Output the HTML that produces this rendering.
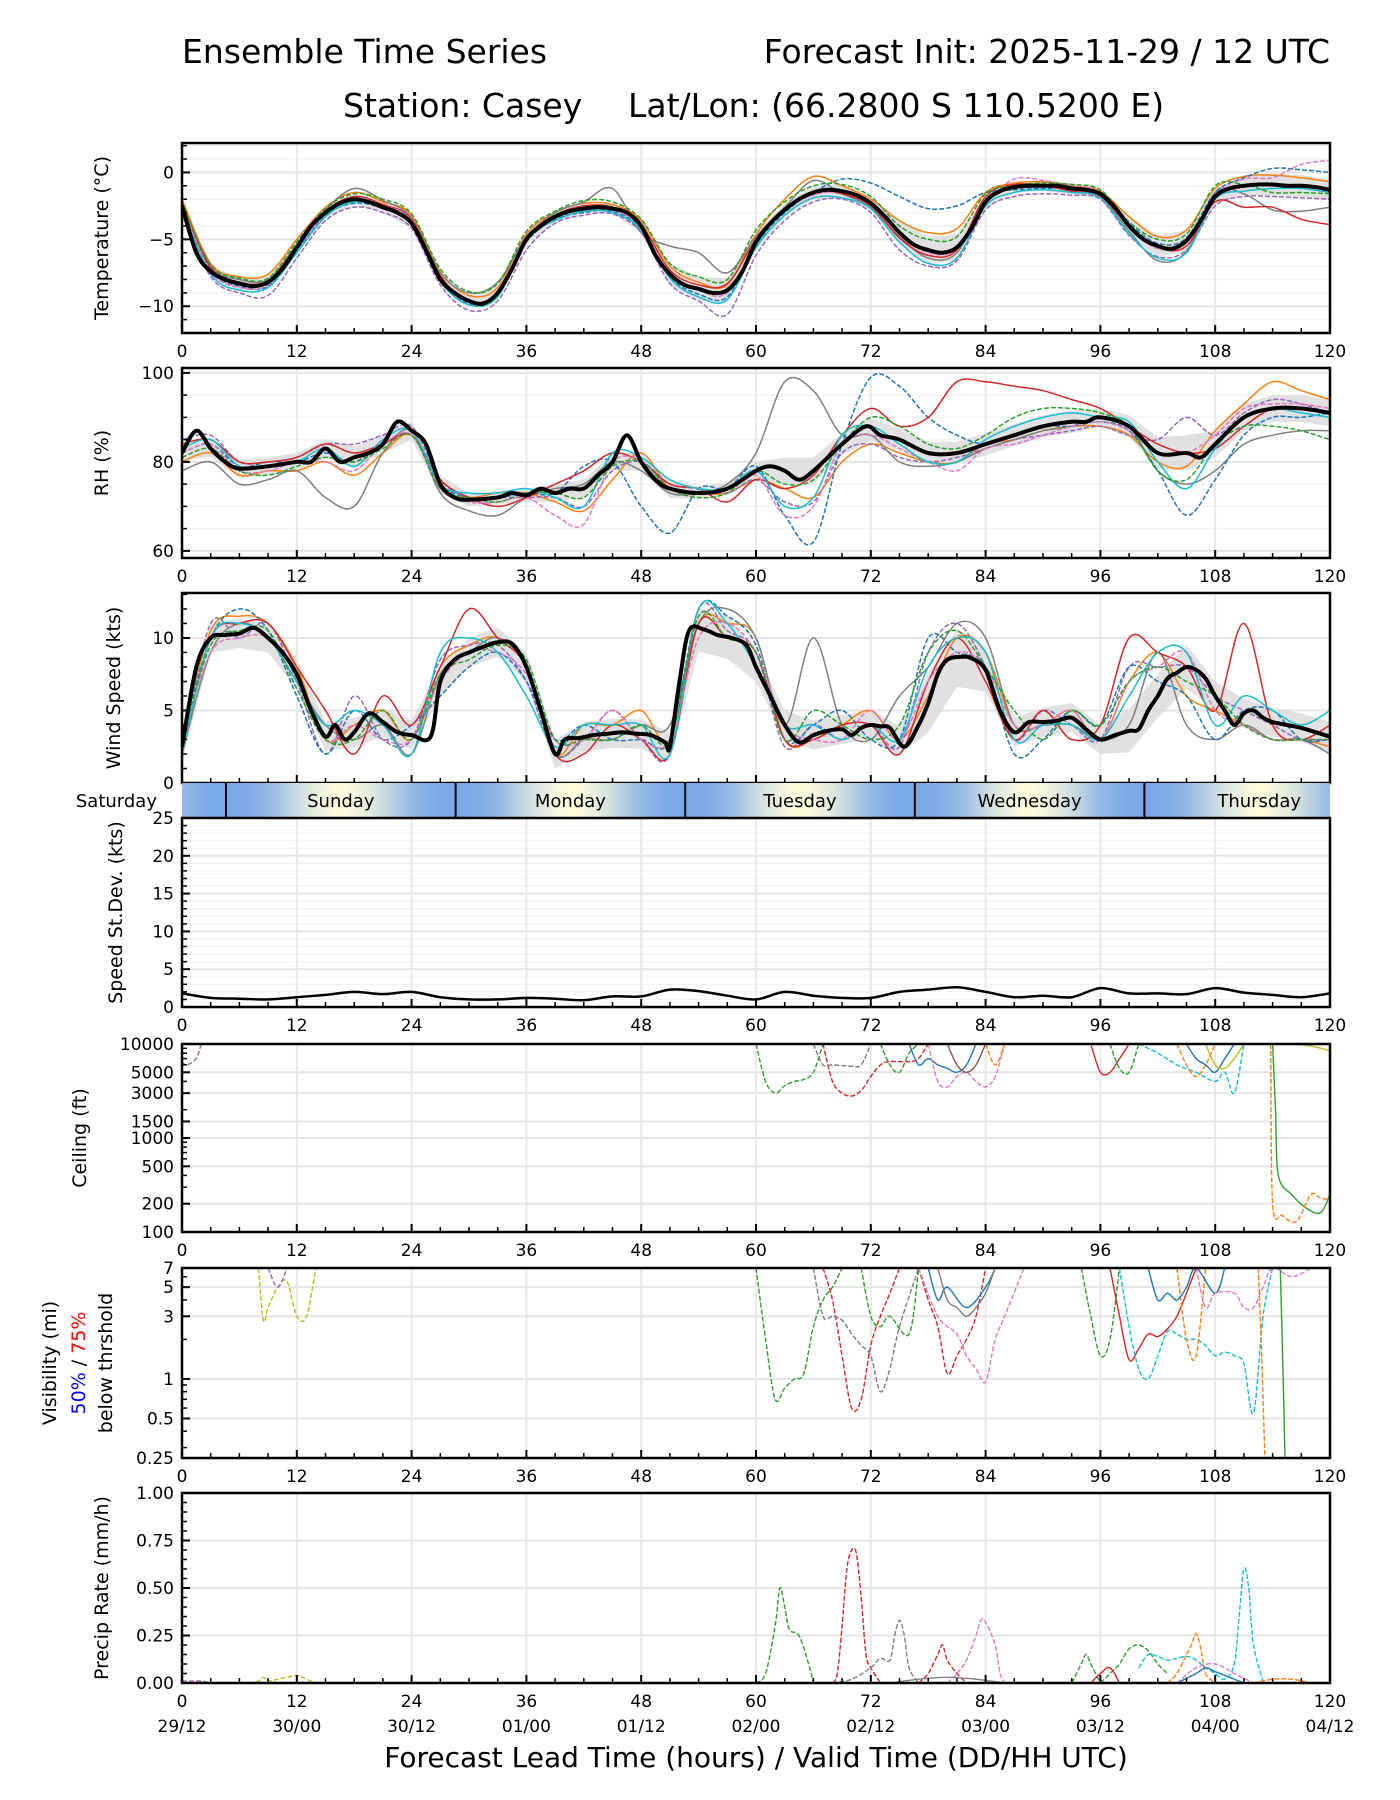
<!DOCTYPE html>
<html><head><meta charset="utf-8"><title>Ensemble Time Series - Casey</title>
<style>
html,body{margin:0;padding:0;background:#fff;}
svg{display:block;font-family:"DejaVu Sans","Liberation Sans",sans-serif;}
</style></head>
<body>
<svg id="chart" width="1400" height="1800" viewBox="0 0 1400 1800" xmlns="http://www.w3.org/2000/svg">
<text x="182" y="63" font-size="33">Ensemble Time Series</text>
<text x="1330" y="63" font-size="33" text-anchor="end">Forecast Init: 2025-11-29 / 12 UTC</text>
<text x="343" y="117" font-size="33">Station: Casey</text>
<text x="628" y="117" font-size="33">Lat/Lon: (66.2800 S 110.5200 E)</text>
<text x="756" y="1767" font-size="28" text-anchor="middle">Forecast Lead Time (hours) / Valid Time (DD/HH UTC)</text>
<g id="layer"></g>
</svg>
<script>
// ---------- data ----------
const hours3 = [0,3,6,9,12,15,18,21,24,27,30,33,36,39,42,45,48,51,54,57,60,63,66,69,72,75,78,81,84,87,90,93,96,99,102,105,108,111,114,117,120];
const tempMeanH = [0,1.5,3,4.5,6,7.5,9,10.5,12,13.5,15,16.5,18,19.5,21,22.5,24,25.5,27,28.5,30,31.5,33,34.5,36,37.5,39,40.5,42,43.5,45,46.5,48,49.5,51,52.5,54,55.5,57,58.5,60,61.5,63,64.5,66,67.5,69,70.5,72,73.5,75,76.5,78,79.5,81,82.5,84,85.5,87,88.5,90,91.5,93,94.5,96,97.5,99,100.5,102,103.5,105,106.5,108,109.5,111,112.5,114,115.5,117,118.5,120];
const tempMean = [-2.5,-6.0,-7.4,-8.0,-8.3,-8.5,-8.2,-7.2,-5.6,-4.0,-3.0,-2.3,-2.0,-2.2,-2.6,-3.0,-3.8,-5.8,-8.0,-9.0,-9.6,-9.8,-9.0,-7.2,-5.0,-4.0,-3.3,-2.9,-2.7,-2.6,-2.7,-3.0,-4.0,-6.2,-7.6,-8.4,-8.7,-9.0,-8.8,-7.5,-5.2,-3.8,-2.8,-2.0,-1.5,-1.3,-1.4,-1.7,-2.3,-3.3,-4.5,-5.4,-5.8,-6.0,-5.6,-4.2,-2.2,-1.4,-1.1,-1.0,-1.0,-1.0,-1.2,-1.3,-1.6,-2.6,-4.0,-5.0,-5.5,-5.7,-5.1,-3.6,-1.8,-1.2,-1.0,-0.9,-0.9,-1.0,-1.0,-1.1,-1.3];
const tempMembers = [
 [-2.0,-6.8,-7.8,-7.6,-5.0,-2.6,-1.5,-2.2,-3.2,-7.4,-9.2,-8.6,-4.6,-3.0,-2.3,-2.4,-3.6,-7.0,-8.2,-8.4,-4.6,-2.0,-0.3,-1.0,-2.0,-3.6,-4.5,-4.2,-1.5,-0.8,-0.7,-1.0,-1.4,-3.3,-4.8,-4.3,-1.2,-0.3,-0.2,-0.4,-0.7],
 [-3.0,-7.8,-9.0,-9.2,-6.4,-3.6,-2.6,-3.0,-4.2,-8.4,-10.3,-9.6,-5.8,-3.8,-3.2,-3.1,-4.5,-8.3,-9.6,-10.6,-6.2,-3.6,-2.2,-2.0,-3.0,-5.8,-7.0,-6.6,-2.8,-1.8,-1.6,-1.7,-2.0,-4.7,-6.3,-5.8,-2.5,-1.8,-1.8,-1.9,-2.0],
 [-2.2,-7.0,-8.0,-8.0,-5.4,-2.8,-1.2,-2.1,-3.4,-7.5,-9.0,-8.2,-4.8,-3.0,-2.2,-1.2,-4.5,-5.5,-6.0,-7.5,-4.8,-2.6,-0.6,-1.6,-2.6,-4.8,-6.4,-6.0,-2.0,-1.0,-0.9,-1.3,-1.8,-4.4,-6.6,-5.9,-1.5,-1.6,-2.8,-2.9,-2.6],
 [-2.6,-7.3,-8.5,-8.5,-5.8,-3.2,-2.3,-2.7,-3.8,-8.0,-9.8,-9.2,-5.2,-3.5,-3.0,-2.9,-4.2,-7.8,-9.1,-9.3,-5.4,-3.0,-1.5,-0.5,-0.8,-1.8,-2.7,-2.5,-1.5,-1.3,-1.2,-1.2,-1.5,-3.8,-5.3,-4.9,-1.5,-0.4,0.3,0.2,0.0],
 [-2.4,-7.1,-8.2,-8.1,-5.5,-2.9,-1.8,-2.4,-3.5,-7.7,-9.6,-9.0,-4.9,-3.2,-2.5,-2.6,-3.9,-7.3,-8.4,-8.3,-5.0,-2.7,-1.5,-1.6,-2.5,-4.9,-6.2,-5.8,-1.8,-0.9,-1.0,-1.4,-1.8,-4.0,-5.6,-5.5,-2.2,-2.6,-2.6,-3.5,-3.9],
 [-2.5,-7.4,-8.6,-8.4,-5.7,-3.1,-2.1,-2.5,-3.6,-7.9,-9.7,-9.1,-5.1,-3.4,-2.8,-2.8,-4.1,-7.6,-8.8,-9.0,-5.3,-2.9,-1.7,-1.5,-2.4,-4.6,-6.0,-5.7,-2.3,-0.5,-0.6,-1.0,-1.5,-4.1,-5.7,-5.2,-1.7,-0.5,-0.4,0.6,0.9],
 [-2.8,-7.6,-8.8,-8.6,-6.0,-3.3,-2.2,-2.6,-3.7,-8.1,-9.9,-9.3,-5.0,-3.6,-2.9,-3.0,-4.3,-7.9,-9.3,-9.5,-5.6,-3.2,-1.9,-1.9,-2.7,-5.2,-6.8,-6.4,-2.5,-1.5,-1.3,-1.5,-1.9,-4.6,-6.4,-6.0,-2.0,-1.4,-1.2,-1.2,-1.5],
 [-2.3,-6.9,-7.9,-7.9,-5.2,-2.7,-1.6,-2.0,-3.1,-7.2,-8.9,-8.3,-4.4,-2.9,-2.1,-2.2,-3.5,-6.8,-7.8,-8.0,-4.3,-2.2,-1.0,-0.9,-1.8,-4.0,-5.0,-4.8,-1.6,-1.0,-0.8,-0.9,-1.3,-3.7,-5.0,-4.6,-1.0,-0.9,-1.5,-1.5,-1.6]
];
const tempSpread = [0.3,0.4,0.5,0.5,0.5,0.4,0.4,0.4,0.4,0.5,0.4,0.5,0.4,0.4,0.4,0.4,0.5,0.8,0.9,0.9,0.7,0.5,0.5,0.5,0.5,0.9,1.0,1.0,0.5,0.4,0.4,0.4,0.4,0.7,0.8,0.8,0.6,0.7,0.8,0.8,0.8];

const rhMeanH = [0,1.5,3,4.5,6,9,12,13.5,15,16.5,18,19.5,21,22.5,24,25.5,27,28.5,30,33,34.5,36,37.5,39,40.5,42,43.5,45,46.5,48,49.5,51,54,57,60,61.5,63,64.5,66,69,71.5,73,75,78,81,84,87,90,93,94.5,96,99,102,105,106.5,108,111,114,117,120];
const rhMean = [82,87,83,80,78.5,79,80,80,83,80,81,82,84,89,87,84,75,72,71.5,72,73,72.5,74,73,74,74,77,80,86,80,76,74,73,74,78,79,78,76,78,84,88,86,85,82,82,84,86,88,89,89,90,88,82,82,81,84,90,92,92,91];
const rhMembers = [
 [80,82,77,78,78,80,77,82,86,74,72,73,73,71,69,76,82,74,73,73,76,74,72,80,84,82,80,80,84,85,87,88,88,86,80,79,87,93,98,96,94],
 [85,86,80,80,81,84,84,86,88,76,72,72,72,72,70,78,80,75,74,73,76,71,71,82,84,81,80,81,83,85,86,87,88,86,85,90,86,91,94,93,91],
 [78,80,75,76,78,72,70,82,87,73,69,68,72,74,75,80,78,73,73,75,82,98,96,86,86,80,79,80,83,85,87,88,90,88,78,75,78,84,86,87,87],
 [82,84,79,80,80,82,80,84,86,75,72,72,73,73,79,80,70,64,74,74,79,68,62,84,99,97,90,86,84,86,88,88,89,87,78,68,76,86,90,90,91],
 [84,85,80,80,81,84,82,84,86,76,72,70,72,75,78,82,80,75,74,71,76,74,77,86,92,88,90,98,98,97,96,94,92,88,84,82,83,88,92,92,91],
 [82,84,78,78,80,80,78,84,86,74,71,71,72,68,66,80,80,74,73,74,77,68,70,84,86,83,80,78,83,84,86,88,89,87,82,82,86,92,93,93,92],
 [83,85,79,79,80,83,79,85,87,75,73,73,74,72,70,82,81,76,74,74,78,70,72,86,88,84,80,80,85,88,90,91,90,89,80,74,83,90,92,91,90],
 [81,83,78,77,79,81,80,83,86,74,72,71,73,73,72,79,80,74,72,73,78,75,76,84,90,88,84,83,86,90,92,92,91,88,78,76,84,88,88,87,85]
];
const rhSpread = [1.5,2,2,2,2,2,2.5,2,2,2,1.5,1.5,1.5,2,2,2,2,2,1.5,1.5,2,3,3,2.5,2.5,2.5,2.5,2.5,2.5,2.5,2.5,2.5,2,2.5,3.5,4,3,3,3,3,3];

const windMeanH = [0,1.5,3,4.5,6,7.5,9,10.5,12,13.5,15,16,17,18,19.5,21,22.5,24,26,27,28.5,30,31.5,33,34.5,36,37.5,39,40,41.5,43,44.5,46,47.5,49,50.5,51,52,53,54.5,56,57.5,59,60,61.5,63,64.5,66,67.5,69,70,71,72,73,74,75.5,77,78,79,80,81.5,82.5,84,85.5,87,88.5,90,91.5,93,94.5,96,97.5,99,100,101,102,103,104,105,106,107,108,109,110,111,112,113,114,115.5,117,118.5,120];
const windMean = [2.5,8.0,10.0,10.2,10.3,10.7,10.0,9.0,7.5,5.0,3.2,4.0,3.0,3.5,4.8,4.2,3.5,3.3,3.2,7.0,8.5,9.0,9.4,9.7,9.6,8.0,5.0,2.0,3.0,3.1,3.3,3.4,3.5,3.4,3.3,2.8,2.5,7.0,10.5,10.6,10.2,10.0,9.5,8.0,6.0,4.0,2.8,3.3,3.6,3.7,3.3,3.8,4.0,3.9,3.8,2.5,4.0,5.5,7.5,8.5,8.7,8.6,7.8,5.0,3.5,4.2,4.2,4.3,4.5,3.7,3.0,3.3,3.6,3.7,5.0,6.0,7.2,7.6,8.0,7.8,7.2,6.0,5.0,4.0,4.8,5.0,4.5,4.2,4.0,3.8,3.5,3.2,3.0];
const windMembers = [
 [3,10.5,11.5,11,8,3,4,5,3,8,9.5,10,8,2,4,4,5,3,11,11,10,3,3,4,5,3,6,10,9,4,4,5,3,7,9,6,5,4,3,3,2.5],
 [2.5,11,10,11,7,2,6,3,3,8.5,9.5,9.5,7,2,3,5,3,2,12,10.5,9,2.5,4,3,4,2.5,9,11,8,3,5,4,3,8,8,8,6,5,4,3,3],
 [2,9,11,10,7,4,3,4,2,7.5,9,10,8,2,3,3,4,4,11,12,10,4,10,4,3,6,8,11,10,4,4,4,3,4,9,4,3,4,3,3,2],
 [3,10,12,10.5,6,2,5,3,4,6,8,9,7,3,4,3,3,3,12,11.5,9.5,3,4,5,3,3,10,9,8,2,3,5,4,8,7,6,3,5,5,3,3],
 [2,10,11,11,8,5,2,6,4,8,12,10,8,2,2,4,3,2,11,10,9,3,3,4,4,2,7,10,7,3,5,3,4,10,9,8,5,11,4,3,4],
 [3,9,10,10,7.5,3,4,3,3,7,9,9,7.5,3,3,5,3,3,10,11,9,4,3,3,5,3,7,9,8,4,4,5,3,7,8,9,5,4,3,3,3],
 [2,10,11,10,7,4,5,4,2,9,10,9,6,2.5,4,4,4,2,12,11,8,4,4,3,4,3,8,10,9,3,4,4,3,6,9,9,4,6,5,4,5],
 [3,9.5,10.5,10.5,6.5,3,3,5,3,7.5,8.5,9.5,8.5,3,3,3,4,3,11.5,10,9,3,5,4,3,4,9,10.5,8,5,3,5,4,7,8,7,6,4,3,3,3]
];
const windSpread = [1,1,1,1,1,1,1,1,1,1,1,1,1,1,1,1,1,1,1.5,1.5,1,1,1,1,1,1,2,2,1.5,1,1,1,1,1.5,1.5,1.5,1,1,1,1,1];

const sdevH = hours3;
const sdevVals = [1.8,1.2,1.1,1.0,1.3,1.6,2.0,1.7,2.0,1.3,1.0,1.0,1.2,1.1,0.9,1.4,1.4,2.3,2.1,1.5,1.0,2.0,1.5,1.2,1.2,2.0,2.3,2.6,2.0,1.3,1.5,1.3,2.5,1.8,1.8,1.7,2.5,1.9,1.6,1.3,1.8];

const ceilSeries = [
 {c:'#2ca02c',d:1,h:[60,61,62,63,64,65,66,67],v:[10000,4000,3000,3600,4000,4200,5000,10000]},
 {c:'#d62728',d:1,h:[67,68,69,70,71,72,73,74,76,77,78],v:[10000,4000,3000,2800,3200,4500,6000,6500,6500,7000,10000]},
 {c:'#7f7f7f',d:1,h:[66,67,68,70,71,72],v:[10000,6000,6000,5800,6000,10000]},
 {c:'#2ca02c',d:1,h:[73,74,75,76,77],v:[10000,6000,5000,8000,10000]},
 {c:'#1f77b4',d:0,h:[76,77,78,79,80,81,82,83],v:[10000,6000,7000,6000,5500,5000,6000,10000]},
 {c:'#e377c2',d:1,h:[78,79,80,81,82,83,84,85,86],v:[10000,4000,3500,4500,5000,4000,3500,4500,10000]},
 {c:'#8c564b',d:0,h:[80,81,82,83,84],v:[10000,6000,5000,6000,10000]},
 {c:'#ff7f0e',d:1,h:[84,85,86],v:[10000,6000,10000]},
 {c:'#d62728',d:0,h:[95,96,97,98,99],v:[10000,5000,5000,7000,10000]},
 {c:'#2ca02c',d:1,h:[97,98,99,100],v:[10000,5500,5000,10000]},
 {c:'#17becf',d:1,h:[100,102,104,106,108,109,110,111],v:[10000,8000,6000,5000,4000,5000,3000,10000]},
 {c:'#ff7f0e',d:1,h:[104,105,106,107,108],v:[10000,6000,4500,6000,10000]},
 {c:'#1f77b4',d:0,h:[105,106,107,108,109,110],v:[10000,7000,6000,5000,7000,10000]},
 {c:'#bcbd22',d:0,h:[107,108,109,110,111],v:[10000,6000,5500,7000,10000]},
 {c:'#2ca02c',d:0,h:[114,114.3,114.6,116,117.5,119,120],v:[10000,2000,400,250,180,160,250]},
 {c:'#ff7f0e',d:1,h:[113.8,114,115,116.5,118,119,120],v:[10000,200,150,130,250,230,220]},
 {c:'#bcbd22',d:0,h:[114,116,118,120],v:[10000,10000,9500,8500]},
 {c:'#9467bd',d:1,h:[0,0.5,1.5,2],v:[6500,6000,7000,10000]}
];
const visSeries = [
 {c:'#bcbd22',d:1,h:[8,8.5,9,10,11,12,13,14],v:[7,2.8,3.5,5,5.5,3,3,7]},
 {c:'#9467bd',d:1,h:[9,10,11],v:[7,5,7]},
 {c:'#2ca02c',d:1,h:[60,61,62,63,64,65,66,67,68,69],v:[7,2,0.7,0.85,1,1.1,2.5,4,5,7]},
 {c:'#d62728',d:1,h:[67,68,69,70,71,72,73,74,75],v:[7,4,1.5,0.6,0.7,1.8,3,4.5,7]},
 {c:'#7f7f7f',d:1,h:[66,67,68,69,70,71,72,73,74,75,77],v:[7,3,3,2.8,2.2,1.8,1.5,0.8,1.2,2.5,7]},
 {c:'#2ca02c',d:1,h:[71,72,73,74,76,77],v:[7,3,2.5,3,2.2,7]},
 {c:'#d62728',d:1,h:[77,78,79,80,81,82,83,84],v:[7,4,2.5,1.1,1.5,2,3,7]},
 {c:'#e377c2',d:1,h:[77,79,81,82,83,84,85,86,88],v:[7,3,2.2,1.5,1.2,0.95,2,3,7]},
 {c:'#1f77b4',d:0,h:[78,79,80,82,84,85],v:[7,4,5,3.5,5,7]},
 {c:'#7f7f7f',d:0,h:[79,80,81,82,83,84,85],v:[7,4,3.5,3,3.5,4.5,7]},
 {c:'#2ca02c',d:1,h:[94,95,96,97,98],v:[7,3,1.5,2,7]},
 {c:'#d62728',d:0,h:[97,98,99,100,101,102,103,104,105,106],v:[7,3,1.4,1.7,2.2,2.1,2.4,3,4.5,7]},
 {c:'#17becf',d:1,h:[98,99,100,101,102,103,104,105,106,107,108,109,110,111,112,113,114],v:[7,2.5,1.2,1,1.5,2.3,2.2,2,2,1.8,1.5,1.6,1.5,1.3,0.55,3,7]},
 {c:'#ff7f0e',d:1,h:[104,105,106,107],v:[7,2,1.5,7]},
 {c:'#1f77b4',d:0,h:[101,102,103,104,105,106,108,109],v:[7,4,4.5,4,5,7,4.5,7]},
 {c:'#e377c2',d:1,h:[106,107,108,110,111,112,113,114,116,118],v:[7,3.5,4.5,4.5,3.5,3.5,5,7,6,7]},
 {c:'#ff7f0e',d:1,h:[112.5,112.8,113.2],v:[7,2,0.25]},
 {c:'#2ca02c',d:0,h:[114.8,115,115.3],v:[7,2,0.25]}
];
const precipSeries = [
 {c:'#bcbd22',d:1,h:[7,8,8.5,9,10,11,12,13,14],v:[0,0.01,0.03,0.01,0.02,0.03,0.04,0.02,0]},
 {c:'#9467bd',d:1,h:[0,1,2,3],v:[0.01,0.01,0.01,0]},
 {c:'#2ca02c',d:1,h:[60,61,62,62.5,63,63.5,64.5,65.5,66],v:[0,0.05,0.3,0.5,0.4,0.28,0.25,0.1,0]},
 {c:'#d62728',d:1,h:[68,68.5,69,69.5,70,70.5,71,71.5,72,73],v:[0,0.05,0.3,0.6,0.7,0.68,0.45,0.15,0.08,0]},
 {c:'#7f7f7f',d:1,h:[68,70,72,73,74,74.5,75,75.5,76,77],v:[0,0.02,0.08,0.13,0.12,0.25,0.33,0.25,0.08,0]},
 {c:'#d62728',d:1,h:[77,78,79,79.5,80,81,82],v:[0,0.05,0.15,0.2,0.12,0.05,0]},
 {c:'#e377c2',d:1,h:[80,81,82,83,83.5,84,85,85.5,86],v:[0,0.05,0.12,0.25,0.33,0.32,0.2,0.05,0]},
 {c:'#7f7f7f',d:0,h:[74,77,80,83,86],v:[0,0.02,0.03,0.02,0]},
 {c:'#2ca02c',d:1,h:[93,94,94.5,95,96],v:[0,0.1,0.15,0.1,0]},
 {c:'#2ca02c',d:1,h:[96,97,98,99,100,101,102,103],v:[0,0.05,0.1,0.18,0.2,0.17,0.1,0.05]},
 {c:'#d62728',d:0,h:[95,96,97,98],v:[0,0.05,0.08,0]},
 {c:'#ff7f0e',d:1,h:[103,104,105,105.5,106,106.5,107,108],v:[0,0.05,0.15,0.2,0.26,0.18,0.05,0]},
 {c:'#17becf',d:1,h:[100,101,102,103,104,105,106,107,108,109,110,110.5,111,111.5,112,113],v:[0.08,0.15,0.14,0.12,0.13,0.14,0.12,0.08,0.05,0.02,0.1,0.35,0.6,0.5,0.2,0.01]},
 {c:'#1f77b4',d:0,h:[104,106,107,108,109,111],v:[0,0.05,0.08,0.06,0.04,0]},
 {c:'#e377c2',d:1,h:[104,106,108,110,112],v:[0,0.08,0.1,0.05,0]},
 {c:'#ff7f0e',d:1,h:[112,114,116,118],v:[0,0.02,0.02,0]}
];
const xTicks = [0,12,24,36,48,60,72,84,96,108,120];
const dateLabels = ['29/12','30/00','30/12','01/00','01/12','02/00','02/12','03/00','03/12','04/00','04/12'];
const dayNames = ['Saturday','Sunday','Monday','Tuesday','Wednesday','Thursday'];
const dayStartHour = 4.6;

// ---------- helpers ----------
const NS='http://www.w3.org/2000/svg';
const layer=document.getElementById('layer');
const X0=182,X1=1330;
function xs(h){return X0+(X1-X0)*h/120;}
function mk(tag,attrs,parent){const e=document.createElementNS(NS,tag);for(const k in attrs)e.setAttribute(k,attrs[k]);(parent||layer).appendChild(e);return e;}
const colors=['#1f77b4','#ff7f0e','#2ca02c','#d62728','#9467bd','#8c564b','#e377c2','#7f7f7f','#bcbd22','#17becf'];

function panel(name,y0,y1,yscale,majors,minors,gridMinor,label,labelX,noXLabels){
  const g=mk('g',{});
  
  
  if(gridMinor){minors.forEach(v=>{const y=yscale(v);mk('line',{x1:X0,x2:X1,y1:y,y2:y,stroke:'#f3f3f3','stroke-width':1.5},g);});}
  majors.forEach(m=>{const y=yscale(m[0]);mk('line',{x1:X0,x2:X1,y1:y,y2:y,stroke:'#e4e4e4','stroke-width':2},g);});
  xTicks.forEach(h=>{mk('line',{x1:xs(h),x2:xs(h),y1:y0,y2:y1,stroke:'#e8e8e8','stroke-width':2},g);});
  const clip=mk('clipPath',{id:'clip-'+name},g);
  mk('rect',{x:X0,y:y0,width:X1-X0,height:y1-y0},clip);
  const data=mk('g',{'clip-path':'url(#clip-'+name+')'},g);
  
  
  for(let h=0;h<=120;h+=3){const big=h%12===0;mk('line',{x1:xs(h),x2:xs(h),y1:y1,y2:y1-(big?8:5),stroke:'#000','stroke-width':big?2:1.5},g);}
  minors.forEach(v=>{const y=yscale(v);mk('line',{x1:X0,x2:X0+5,y1:y,y2:y,stroke:'#000','stroke-width':1.5},g);});
  majors.forEach(m=>{const y=yscale(m[0]);mk('line',{x1:X0,x2:X0+8,y1:y,y2:y,stroke:'#000','stroke-width':2},g);
    const t=mk('text',{x:X0-8,y:y+6,'font-size':17,'text-anchor':'end'},g);t.textContent=m[1];
    
    });
  if(!noXLabels){xTicks.forEach(h=>{const t=mk('text',{x:xs(h),y:y1+24,'font-size':17,'text-anchor':'middle'},g);t.textContent=h;
    
    });}
  if(label){const cy=(y0+y1)/2;const t=mk('text',{x:labelX,y:cy,'font-size':19,'text-anchor':'middle',transform:'rotate(-90 '+labelX+' '+cy+')'},g);t.textContent=label;
    
    }
  return {g,data,frame:()=>mk('rect',{x:X0,y:y0,width:X1-X0,height:y1-y0,fill:'none',stroke:'#000','stroke-width':2.5},g)};
}
function smoothD(hs,vs,yscale){
  const p=hs.map((h,i)=>[xs(h),yscale(vs[i])]);let d='M'+p[0][0].toFixed(1)+','+p[0][1].toFixed(1);
  for(let i=0;i<p.length-1;i++){const a=p[i-1]||p[i],b=p[i],c=p[i+1],e=p[i+2]||c;
    const c1=[b[0]+(c[0]-a[0])/6,b[1]+(c[1]-a[1])/6],c2=[c[0]-(e[0]-b[0])/6,c[1]-(e[1]-b[1])/6];
    d+='C'+c1[0].toFixed(1)+','+c1[1].toFixed(1)+' '+c2[0].toFixed(1)+','+c2[1].toFixed(1)+' '+c[0].toFixed(1)+','+c[1].toFixed(1);}
  return d;}
function interp(hs,vs,h){for(let i=0;i<hs.length-1;i++){if(h<=hs[i+1]){const t=(h-hs[i])/(hs[i+1]-hs[i]);return vs[i]+t*(vs[i+1]-vs[i]);}}return vs[vs.length-1];}
function ensemble(P,name,members,spread,meanH,mean,yscale){
  const up=hours3.map((h,i)=>[xs(h),yscale(interp(meanH,mean,h)+spread[i])]);
  const lo=hours3.map((h,i)=>[xs(h),yscale(interp(meanH,mean,h)-spread[i])]);
  const band=mk('path',{d:'M'+up.map(p=>p.join(',')).join('L')+'L'+lo.reverse().map(p=>p.join(',')).join('L')+'Z',fill:'#d9d9d9',opacity:0.8},P.data);
  
  
  members.forEach((m,i)=>{const p=mk('path',{d:smoothD(hours3,m,yscale),fill:'none',stroke:colors[(i*3+1)%10],'stroke-width':1.5,'stroke-dasharray':i%2?'5,2':'none'},P.data);
    
    });
  const ml=mk('path',{d:smoothD(meanH,mean,yscale),fill:'none',stroke:'#000','stroke-width':4,'stroke-linejoin':'round'},P.data);
  
  
}
function lin(v0,v1,y0,y1){return v=>y1-(v-v0)/(v1-v0)*(y1-y0);}
function logs(v0,v1,y0,y1){return v=>y1-(Math.log(v)-Math.log(v0))/(Math.log(v1)-Math.log(v0))*(y1-y0);}
function range(a,b,s){const r=[];for(let v=a;v<=b+1e-9;v+=s)r.push(+v.toFixed(4));return r;}
function sparse(P,name,series,yscale){series.forEach(s=>{const p=mk('path',{d:smoothD(s.h,s.v,yscale),fill:'none',stroke:s.c,'stroke-width':1.4,'stroke-dasharray':s.d?'5,2':'none'},P.data);
  
  });}

// ---------- temperature ----------
let ys=lin(-12,2.2,143,333);
let P=panel('temperature',143,333,ys,[[0,'0'],[-5,'\u22125'],[-10,'\u221210']],range(-12,2,1),true,'Temperature (\u00b0C)',108);
ensemble(P,'temperature',tempMembers,tempSpread,tempMeanH,tempMean,ys);P.frame();
// ---------- RH ----------
ys=lin(58.4,101.1,368,558);
P=panel('rh',368,558,ys,[[100,'100'],[80,'80'],[60,'60']],range(60,100,5),true,'RH (%)',108);
ensemble(P,'rh',rhMembers,rhSpread,rhMeanH,rhMean,ys);P.frame();
// ---------- wind ----------
ys=lin(0,13.1,593,783);
P=panel('wind',593,783,ys,[[10,'10'],[5,'5'],[0,'0']],range(0,13,1),false,'Wind Speed (kts)',120,true);
ensemble(P,'wind',windMembers,windSpread,windMeanH,windMean,ys);P.frame();
// ---------- day bar ----------
(function(){
  const defs=mk('defs',{});
  const grad=mk('linearGradient',{id:'daygrad',x1:0,x2:1,y1:0,y2:0},defs);
  for(let h=0;h<=120;h+=1){const ph=Math.cos((h-dayStartHour-12)/24*2*Math.PI);const t=(ph+1)/2;
    const c0=[122,168,232],c1=[250,250,220];const c=c0.map((v,i)=>Math.round(v+(c1[i]-v)*Math.pow(t,1.3)));
    mk('stop',{offset:(h/120).toFixed(4),'stop-color':'rgb('+c.join(',')+')'},grad);}
  const r=mk('rect',{x:X0,y:783,width:X1-X0,height:35,fill:'url(#daygrad)'});
  
  
  for(let k=0;k<5;k++){const h=dayStartHour+24*k;mk('line',{x1:xs(h),x2:xs(h),y1:783,y2:818,stroke:'#000','stroke-width':2});}
  dayNames.forEach((n,i)=>{let x,anchor='middle';if(i===0){x=157;anchor='end';}else x=xs(dayStartHour+24*(i-1)+12);
    const t=mk('text',{x:x,y:807,'font-size':18,'text-anchor':anchor});t.textContent=n;
    
    });
})();
// ---------- stddev ----------
ys=lin(0,25,818,1007);
P=panel('speed-stdev',818,1007,ys,[[25,'25'],[20,'20'],[15,'15'],[10,'10'],[5,'5'],[0,'0']],range(0,25,1),true,'Speed St.Dev. (kts)',122);
(function(){const p=mk('path',{d:smoothD(sdevH,sdevVals,ys),fill:'none',stroke:'#000','stroke-width':2.5},P.data);

})();P.frame();
// ---------- ceiling ----------
ys=logs(100,10000,1044,1232);
P=panel('ceiling',1044,1232,ys,[[10000,'10000'],[5000,'5000'],[3000,'3000'],[1500,'1500'],[1000,'1000'],[500,'500'],[200,'200'],[100,'100']],[200,300,400,500,600,700,800,900,2000,3000,4000,5000,6000,7000,8000,9000],false,'Ceiling (ft)',86);
sparse(P,'ceiling',ceilSeries,ys);P.frame();
// ---------- visibility ----------
ys=logs(0.25,7,1268,1458);
P=panel('visibility',1268,1458,ys,[[7,'7'],[5,'5'],[3,'3'],[1,'1'],[0.5,'0.5'],[0.25,'0.25']],[0.3,0.4,0.6,0.7,0.8,0.9,2,4,6],false,null,0);
sparse(P,'visibility',visSeries,ys);P.frame();
(function(){const cy=1363;
 const t1=mk('text',{x:56,y:cy,'font-size':19,'text-anchor':'middle',transform:'rotate(-90 56 '+cy+')'});t1.textContent='Visibility (mi)';
 
 const t2=mk('text',{x:85,y:cy,'font-size':19,'text-anchor':'middle',transform:'rotate(-90 85 '+cy+')'});
 
 const a=mk('tspan',{fill:'#0000ff'},t2);a.textContent='50%';const b=mk('tspan',{},t2);b.textContent=' / ';const c=mk('tspan',{fill:'#ff0000'},t2);c.textContent='75%';
 const t3=mk('text',{x:112,y:cy,'font-size':19,'text-anchor':'middle',transform:'rotate(-90 112 '+cy+')'});t3.textContent='below thrshold';
 })();
// ---------- precip ----------
ys=lin(0,1,1493,1683);
P=panel('precip',1493,1683,ys,[[1,'1.00'],[0.75,'0.75'],[0.5,'0.50'],[0.25,'0.25'],[0,'0.00']],range(0,1,0.05),false,'Precip Rate (mm/h)',108);
sparse(P,'precip',precipSeries,ys);P.frame();
xTicks.forEach((h,i)=>{const t=mk('text',{x:xs(h),y:1732,'font-size':17,'text-anchor':'middle'});t.textContent=dateLabels[i];
 
 });
</script>
</body></html>
